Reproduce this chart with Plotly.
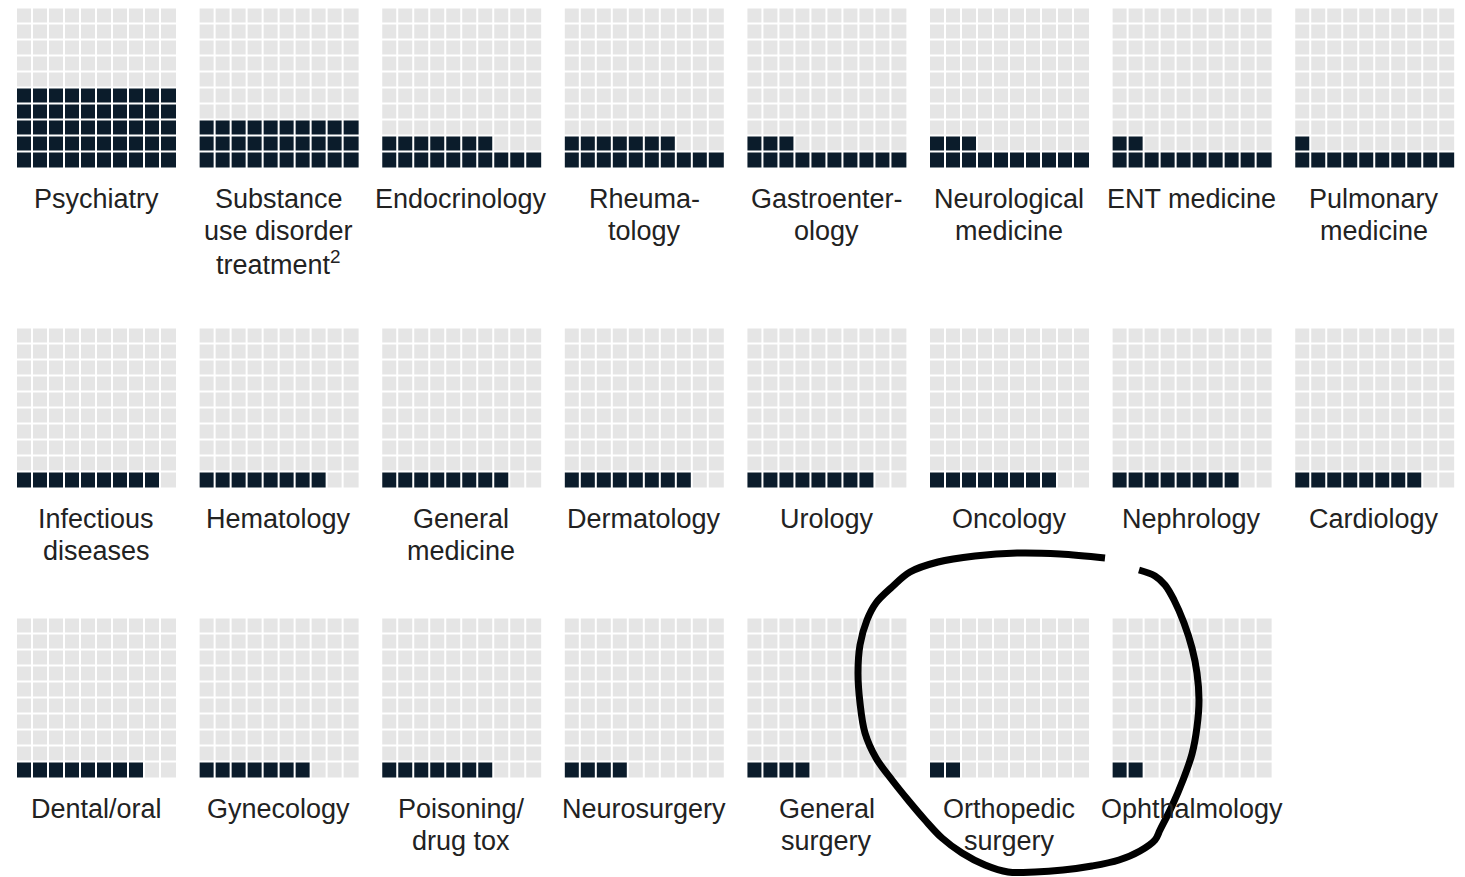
import plotly.graph_objects as go

# ---- data ----
specialties = [
    "Psychiatry", "Substance\nuse disorder\ntreatment<sup>2</sup>", "Endocrinology", "Rheuma-\ntology",
    "Gastroenter-\nology", "Neurological\nmedicine", "ENT medicine", "Pulmonary\nmedicine",
    "Infectious\ndiseases", "Hematology", "General\nmedicine", "Dermatology",
    "Urology", "Oncology", "Nephrology", "Cardiology",
    "Dental/oral", "Gynecology", "Poisoning/\ndrug tox", "Neurosurgery",
    "General\nsurgery", "Orthopedic\nsurgery", "Ophthalmology",
]
shares = [50, 30, 17, 17, 13, 13, 12, 11,
          9, 8, 8, 8, 8, 8, 8, 8,
          8, 7, 7, 4, 4, 2, 2]

# hand-drawn highlight stroke (pixel positions of the overlay sketch)
circle_x = [1105, 1060, 1017, 975, 938, 910, 892, 876, 867, 860, 858, 860, 865, 876, 892, 908, 925, 942, 962,
            985, 1008, 1035, 1063, 1092, 1119, 1140, 1155, 1160, 1172, 1183, 1192, 1197, 1199, 1197, 1192,
            1184, 1174, 1165, 1155, 1139]
circle_y = [558, 554, 553, 556, 562, 572, 587, 603, 620, 645, 673, 703, 733, 758, 780, 800, 820, 838, 853,
            865, 872, 872, 870, 866, 860, 851, 840, 830, 806, 780, 754, 727, 700, 673, 648,
            623, 600, 585, 576, 570]

W, H = 1465, 877
DARK = "#0b1c2b"
LIGHT = "#e5e5e5"
N_COLS = 8
PITCH_X = 182.6
LEFT0 = 16
CELL_W = 160.5
ROW_TOPS = [7.5, 327.5, 617.5]
CELL_H = 160.5

fig = go.Figure()
annotations = []
for i, (name, val) in enumerate(zip(specialties, shares)):
    r, c = divmod(i, N_COLS)
    left = LEFT0 + c * PITCH_X
    top = ROW_TOPS[r]
    z = [[1 if rr * 10 + cc < val else 0 for cc in range(10)] for rr in range(10)]
    ax = "" if i == 0 else str(i + 1)
    fig.add_trace(go.Heatmap(
        z=z, x=list(range(10)), y=list(range(10)),
        colorscale=[[0, LIGHT], [1, DARK]], zmin=0, zmax=1,
        showscale=False, xgap=2, ygap=2, hoverinfo="skip",
        xaxis="x" + ax, yaxis="y" + ax,
    ))
    fig.layout["xaxis" + ax] = dict(domain=[left / W, (left + CELL_W) / W], range=[-0.5, 9.5],
                                    visible=False, fixedrange=True)
    fig.layout["yaxis" + ax] = dict(domain=[1 - (top + CELL_H) / H, 1 - top / H], range=[-0.5, 9.5],
                                    visible=False, fixedrange=True)
    cx = (left + CELL_W / 2) / W
    for k, line in enumerate(name.split("\n")):
        ypix = top + CELL_H + 31 + 32 * k
        annotations.append(dict(
            text=line, x=cx, y=1 - ypix / H, xref="paper", yref="paper",
            xanchor="center", yanchor="middle", showarrow=False,
            font=dict(family="Liberation Sans", size=27, color="#222222"),
        ))

# overlay axis for the hand-drawn circle
n = len(specialties) + 1
fig.add_trace(go.Scatter(
    x=circle_x, y=circle_y, mode="lines", line=dict(color="black", width=7, shape="spline"),
    hoverinfo="skip", xaxis=f"x{n}", yaxis=f"y{n}", showlegend=False,
))
fig.layout[f"xaxis{n}"] = dict(domain=[0, 1], range=[0, W], visible=False, fixedrange=True)
fig.layout[f"yaxis{n}"] = dict(domain=[0, 1], range=[H, 0], visible=False, fixedrange=True)

fig.update_layout(
    width=W, height=H, margin=dict(l=0, r=0, t=0, b=0),
    paper_bgcolor="white", plot_bgcolor="rgba(0,0,0,0)",
    annotations=annotations, showlegend=False,
)
fig.write_html("out.html", config={"displayModeBar": False})
